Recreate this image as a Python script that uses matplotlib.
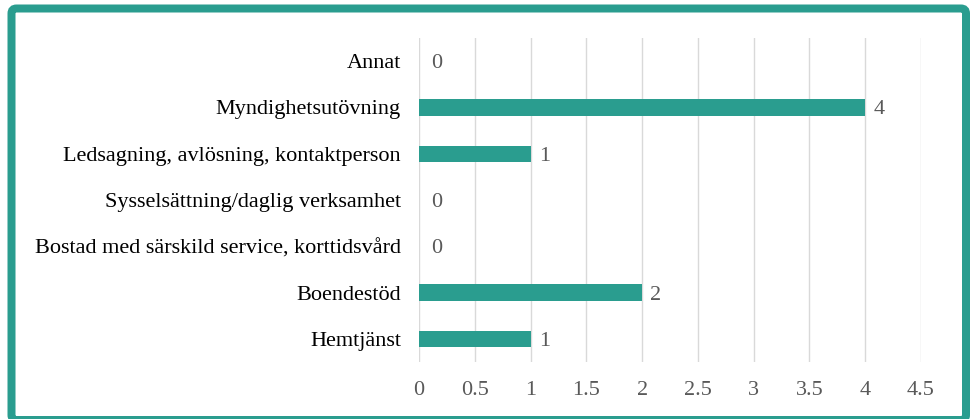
import matplotlib
matplotlib.use("Agg")
import matplotlib.pyplot as plt
from matplotlib.patches import FancyBboxPatch
from matplotlib.transforms import IdentityTransform

categories = ["Annat", "Myndighetsutövning", "Ledsagning, avlösning, kontaktperson",
              "Sysselsättning/daglig verksamhet", "Bostad med särskild service, korttidsvård",
              "Boendestöd", "Hemtjänst"]
values = [0, 4, 1, 0, 0, 2, 1]
xticks = [0, 0.5, 1, 1.5, 2, 2.5, 3, 3.5, 4, 4.5]
xtick_labels = ["0", "0.5", "1", "1.5", "2", "2.5", "3", "3.5", "4", "4.5"]

W, H = 979, 419
DPI = 100
teal = "#2A9D8F"
fig = plt.figure(figsize=(W / DPI, H / DPI), dpi=DPI)
fig.patch.set_facecolor("white")

serif = ["Liberation Serif", "DejaVu Serif"]
FS = 16

# axes placement in pixels
left, right = 419, 921
top, bottom = 38, 362
ax = fig.add_axes([left / W, 1 - bottom / H, (right - left) / W, (bottom - top) / H])

ypos = list(range(len(categories)))
ax.barh(ypos, values, height=0.35, color=teal, zorder=3)
ax.set_ylim(len(categories) - 0.5, -0.5)
ax.set_xlim(0, 4.5)
ax.set_yticks(ypos)
ax.set_yticklabels(categories, fontfamily=serif, fontsize=FS, color="#000000")
ax.set_xticks(xticks)
ax.set_xticklabels(xtick_labels, fontfamily=serif, fontsize=FS, color="#595959")
ax.tick_params(axis="y", length=0, pad=13)
ax.tick_params(axis="x", length=0, pad=14)
ax.grid(axis="x", color="#d9d9d9", linewidth=1, zorder=0)
ax.set_axisbelow(True)
for s in ax.spines.values():
    s.set_visible(False)

for y, v in zip(ypos, values):
    ax.annotate(str(v), xy=(v, y), xytext=(6 if v else 9, 0), textcoords="offset points",
                va="center_baseline", ha="left", fontfamily=serif, fontsize=FS, color="#595959")

# border in pixel coordinates (y measured from top in reference)
lw_px = 8
bx0, bx1 = 11.5, 966
by0, by1 = 8.5, 420
border = FancyBboxPatch((bx0, H - by1), bx1 - bx0, by1 - by0,
                        boxstyle="round,pad=0,rounding_size=5",
                        transform=IdentityTransform(), fill=False,
                        edgecolor=teal, linewidth=lw_px * 72 / DPI, clip_on=False)
fig.patches.append(border)

fig.savefig("out.png", dpi=DPI)
